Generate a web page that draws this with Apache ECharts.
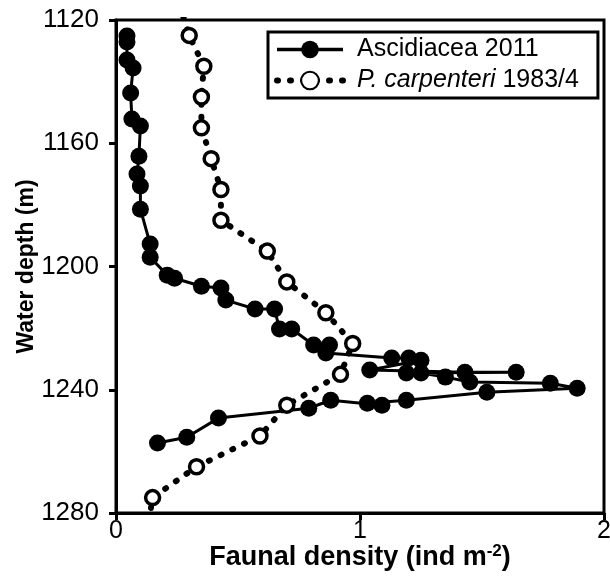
<!DOCTYPE html>
<html>
<head>
<meta charset="utf-8">
<script src="https://cdn.jsdelivr.net/npm/echarts@6/dist/echarts.min.js"></script>
<style>
html,body{margin:0;padding:0;background:#fff;}
#c{width:610px;height:578px;}
</style>
</head>
<body>
<div id="c"></div>
<script>
// Ascidiacea 2011: density (ind m-2) and water depth (m)
var asciDensity = [0.045,0.045,0.045,0.07,0.06,0.065,0.10,0.094,0.086,0.10,0.10,0.14,0.14,0.21,0.24,0.35,0.43,0.45,0.57,0.65,0.67,0.72,0.81,0.875,0.86,1.13,1.20,1.25,1.04,1.43,1.64,1.19,1.25,1.35,1.45,1.78,1.89,1.52,1.19,1.03,1.09,0.88,0.79,0.42,0.29,0.17];
var asciDepth   = [1125.2,1127.1,1133.0,1135.6,1143.7,1152.1,1154.4,1164.2,1170.0,1173.9,1181.4,1192.7,1197.0,1202.8,1203.8,1206.4,1207.0,1210.9,1213.8,1213.8,1220.3,1220.3,1225.5,1225.5,1228.1,1229.7,1229.7,1230.4,1233.6,1234.3,1234.3,1234.6,1234.6,1235.9,1237.5,1237.9,1239.5,1240.8,1243.4,1244.4,1245.0,1243.4,1246.0,1249.2,1255.4,1257.3];
// P. carpenteri 1983/4
var carpDensity = [0.26,0.30,0.36,0.35,0.35,0.39,0.43,0.43,0.62,0.70,0.86,0.97,0.92,0.70,0.59,0.33,0.15,0.13];
var carpDepth   = [1115,1125,1135,1145,1155,1165,1175,1185,1195,1205,1215,1225,1235,1245,1255,1265,1275,1285];
var xTicks = [0,1,2];
var yTicks = [1120,1160,1200,1240,1280];
var seriesNames = ['Ascidiacea 2011','P. carpenteri 1983/4'];

function pairs(xs, ys){ return xs.map(function(x,i){ return [x, ys[i]]; }); }

var FONT = '"Liberation Sans", Arial, sans-serif';
var chart = echarts.init(document.getElementById('c'), null, {renderer:'canvas'});
chart.setOption({
  animation:false,
  backgroundColor:'#fff',
  grid:{left:116, right:6, top:20, bottom:65, containLabel:false, outerBoundsMode:'none',
        show:true, borderColor:'#000', borderWidth:3},
  legend:{
    data:[
      {name:seriesNames[0], lineStyle:{width:3.5}},
      {name:seriesNames[1], lineStyle:{width:6, type:[1,12], cap:'round'}}
    ],
    left:268, top:32, orient:'vertical',
    padding:[5,19,5,6], itemGap:6,
    borderColor:'#000', borderWidth:3, backgroundColor:'#fff',
    itemWidth:66, itemHeight:22,
    textStyle:{fontFamily:FONT, fontSize:25, color:'#000', padding:[0,0,0,9],
      rich:{i:{fontFamily:FONT, fontSize:25, fontStyle:'italic', color:'#000'}, n:{fontFamily:FONT, fontSize:25, color:'#000'}}},
    formatter:function(name){
      if(name.indexOf('P. carpenteri')===0){ return '{i|P. carpenteri}{n| 1983/4}'; }
      return '{n|'+name+'}';
    }
  },
  xAxis:{
    type:'value', min:xTicks[0], max:xTicks[xTicks.length-1], interval:1,
    name:'Faunal density (ind m{s|-2})', nameLocation:'middle', nameGap:30, nameMoveOverlap:false,
    nameTextStyle:{fontFamily:FONT, fontSize:27, fontWeight:'bold', color:'#000',
      rich:{s:{fontFamily:FONT, fontSize:17, fontWeight:'bold', color:'#000', padding:[0,0,12,0]}}},
    axisLine:{show:true, onZero:false, lineStyle:{color:'#000', width:3}},
    axisTick:{show:true, length:7, lineStyle:{color:'#000', width:3}},
    axisLabel:{fontFamily:FONT, fontSize:25, color:'#000', margin:6, formatter:function(v){return String(v);}},
    splitLine:{show:false}
  },
  yAxis:{
    type:'value', inverse:true, min:yTicks[0], max:yTicks[yTicks.length-1], interval:40,
    name:'Water depth (m)', nameLocation:'middle', nameGap:78, nameRotate:90, nameMoveOverlap:false,
    nameTextStyle:{fontFamily:FONT, fontSize:23, fontWeight:'bold', color:'#000'},
    axisLine:{show:true, onZero:false, lineStyle:{color:'#000', width:3}},
    axisTick:{show:true, length:7, lineStyle:{color:'#000', width:3}},
    axisLabel:{fontFamily:FONT, fontSize:26, color:'#000', margin:17, formatter:function(v){return String(v);}},
    splitLine:{show:false}
  },
  series:[
    {
      name:seriesNames[0], type:'line', clip:true, z:2,
      data:pairs(asciDensity, asciDepth),
      symbol:'circle', symbolSize:17, showAllSymbol:true,
      lineStyle:{color:'#000', width:3},
      itemStyle:{color:'#000', borderWidth:0}
    },
    {
      name:seriesNames[1], type:'line', clip:true, z:3,
      data:pairs(carpDensity, carpDepth),
      symbol:'circle', symbolSize:14, showAllSymbol:true,
      lineStyle:{color:'#000', width:6, type:[1,12], cap:'round'},
      itemStyle:{color:'#fff', borderColor:'#000', borderWidth:3.5}
    }
  ]
});
</script>
</body>
</html>
